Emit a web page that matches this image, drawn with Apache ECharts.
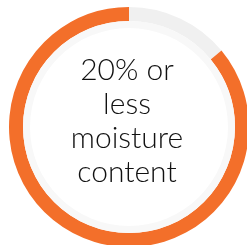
<!DOCTYPE html>
<html>
<head>
<meta charset="utf-8">
<script src="https://cdn.jsdelivr.net/npm/echarts@6/dist/echarts.min.js"></script>
<style>
html, body { margin: 0; padding: 0; background: #fff; }
#chart { width: 247px; height: 245px; }
</style>
</head>
<body>
<div id="chart"></div>
<script>
// ring segments, clockwise from 12 o'clock
let categories = ['Other', 'Moisture content']
let values = [14, 86]
let colors = ['#f0f0f0', '#f36f2a']
let centerText = '20% or\nless\nmoisture\ncontent'

let mychart = echarts.init(document.getElementById('chart'))
let options = {
    animation: false,
    series: [
        {
            type: 'pie',
            center: [129, 127],
            radius: [106, 120],
            startAngle: 90,
            clockwise: true,
            silent: true,
            label: { show: false },
            labelLine: { show: false },
            data: categories.map((name, i) => ({
                name: name,
                value: values[i],
                itemStyle: { color: colors[i] }
            }))
        },
        {
            // faint inner band
            type: 'pie',
            center: [129, 127],
            radius: [99, 106],
            silent: true,
            label: { show: false },
            labelLine: { show: false },
            data: [{ value: 1, itemStyle: { color: '#f8f8f8' } }]
        }
    ],
    graphic: [
        {
            type: 'text',
            x: 127,
            y: 121,
            style: {
                text: centerText,
                textAlign: 'center',
                textVerticalAlign: 'middle',
                font: '300 30px Lato',
                lineHeight: 34,
                fill: '#111'
            }
        }
    ]
}
mychart.setOption(options)
</script>
</body>
</html>
